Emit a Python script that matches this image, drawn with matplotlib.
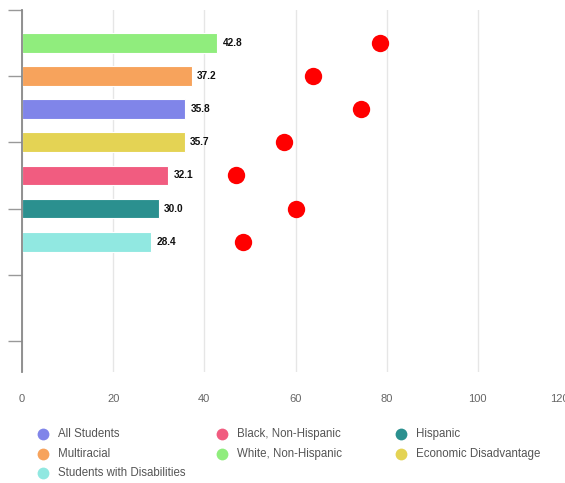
import matplotlib
matplotlib.use("Agg")
import matplotlib.pyplot as plt
from matplotlib.lines import Line2D
from matplotlib.transforms import ScaledTranslation

plt.rcParams['font.family'] = ['Liberation Sans', 'DejaVu Sans']

# Data (top to bottom)
groups = ["White, Non-Hispanic", "Multiracial", "All Students", "Economic Disadvantage",
          "Black, Non-Hispanic", "Hispanic", "Students with Disabilities"]
bar_values = [42.8, 37.2, 35.8, 35.7, 32.1, 30.0, 28.4]
dot_values = [78.5, 63.8, 74.3, 57.4, 47.0, 60.1, 48.5]
bar_colors = ["#90ed7d", "#f7a35c", "#8085e9", "#e4d354", "#f15c80", "#2b908f", "#91e8e1"]
x_ticks = [0, 20, 40, 60, 80, 100, 120]

legend_order = ["All Students", "Black, Non-Hispanic", "Hispanic",
                "Multiracial", "White, Non-Hispanic", "Economic Disadvantage",
                "Students with Disabilities"]

W, H = 565, 483
fig = plt.figure(figsize=(W / 100, H / 100), dpi=100)
ax_left, ax_right, ax_top, ax_bottom = 22, 569, 10, 372
ax = fig.add_axes([ax_left / W, 1 - ax_bottom / H, (ax_right - ax_left) / W, (ax_bottom - ax_top) / H])

ypos = list(range(len(groups)))
ax.barh(ypos, bar_values, height=0.6, color=bar_colors, edgecolor="white", linewidth=0.8, zorder=3)
for y, v in zip(ypos, bar_values):
    ax.text(v + 1.2, y, f"{v:.1f}", va="center", ha="left", fontsize=7.3,
            fontweight="bold", color="#111111", zorder=5)
ax.plot(dot_values, ypos, linestyle="none", marker="o", markersize=12.5,
        color="#ff0000", markeredgewidth=0, zorder=4)

ax.set_xlim(0, 120)
ax.set_ylim(9.94, -1)
ax.set_xticks(x_ticks)
ax.set_xticklabels([str(t) for t in x_ticks], fontsize=8, color="#666666")
ax.tick_params(axis="x", length=0, pad=16)
# last label is pulled inward, as in the reference
last = ax.get_xticklabels()[-1]
last.set_transform(last.get_transform() + ScaledTranslation(-10 / 100, 0, fig.dpi_scale_trans))
ax.set_yticks([-1, 1, 3, 5, 7, 9])
ax.set_yticklabels([])
ax.tick_params(axis="y", length=10, width=1, color="#999999", direction="out")
ax.grid(axis="x", color="#e6e6e6", linewidth=1, zorder=0)
for s in ["top", "right", "bottom"]:
    ax.spines[s].set_visible(False)
ax.spines["left"].set_color("#888888")
ax.spines["left"].set_linewidth(1.3)
ax.spines["left"].set_zorder(6)

# Legend (manual placement in figure pixels)
color_map = dict(zip(groups, bar_colors))
col_x = [43, 222, 401]
row_y = [434, 454, 473]
for i, name in enumerate(legend_order):
    r, c = divmod(i, 3)
    mx, my = col_x[c], row_y[r]
    fig.add_artist(Line2D([mx / W], [1 - my / H], marker="o", markersize=8.5,
                          color=color_map[name], markeredgewidth=0, linestyle="none",
                          transform=fig.transFigure))
    fig.text((mx + 15) / W, 1 - my / H, name, fontsize=8.3, color="#555555",
             va="center", ha="left")

fig.savefig("out.png", dpi=100)
